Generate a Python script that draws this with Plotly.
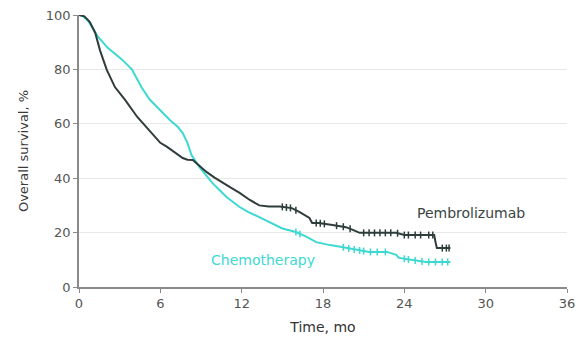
import numpy as np
import plotly.graph_objects as go

# Kaplan-Meier curves (months, % surviving)
pembro_t = [0, 0.4, 0.8, 1.2, 1.55, 2.05, 2.65, 3.4, 4.3, 5.0, 5.5, 6.0, 6.5, 7.0, 7.65, 8.0, 8.4,
            8.9, 9.4, 10.0, 10.6, 11.2, 11.85, 12.6, 13.3, 14.0, 14.8, 15.7, 16.25, 17.0, 17.2, 17.7,
            18.7, 19.7, 20.2, 20.7, 22.1, 23.4, 24.0, 24.6, 26.2, 26.3, 26.4, 27.4]
pembro_s = [100, 99.5, 97.4, 93.4, 87, 79.8, 73.5, 68.8, 62.5, 58.5, 56, 53, 51.5, 49.8, 47.4, 46.8, 46.7,
            44.5, 42.3, 40.2, 38.2, 36.5, 34.6, 32, 30, 29.6, 29.6, 29, 27.6, 25.4, 23.5, 23.5,
            22.8, 22, 21, 19.9, 19.9, 19.9, 19.1, 19.1, 19.1, 16.5, 14.3, 14.3]

chemo_t = [0, 0.3, 0.66, 1.0, 1.4, 2.1, 3.2, 3.9, 4.6, 5.2, 5.6, 6.0, 6.7, 7.3, 7.65, 8.0, 8.3, 8.9,
           9.4, 9.85, 10.4, 10.9, 11.85, 12.5, 13.3, 14.0, 15.0, 16.0, 16.8, 17.5, 18.5, 19.4, 20.5,
           21.4, 22.7, 23.4, 23.6, 24.6, 25.6, 27.4]
chemo_s = [100, 99.5, 98, 95, 92, 88, 83.5, 80, 73.5, 69, 67, 65, 61.4, 58.8, 56.6, 53, 48.5, 44,
           41, 38.2, 35.5, 33, 29.4, 27.5, 25.7, 24, 21.5, 20.2, 18.4, 16.5, 15.4, 14.7, 13.6,
           12.9, 12.9, 11.8, 10.7, 9.9, 9.2, 9.2]

# censoring times (tick marks)
pembro_cens = [15.0, 15.3, 15.6, 16.0, 17.5, 17.8, 18.1, 19.0, 19.5, 20.0, 21.0, 21.4, 21.8, 22.2,
               22.6, 23.0, 23.5, 24.0, 24.3, 24.8, 25.2, 25.8, 26.1, 26.8, 27.1, 27.3]
chemo_cens = [16.0, 16.3, 19.5, 19.9, 20.3, 20.7, 21.0, 21.5, 22.0, 22.6, 24.0, 24.3, 24.8, 25.3,
              25.8, 26.3, 26.8, 27.2]

x_ticks = [0, 6, 12, 18, 24, 30, 36]
y_ticks = [0, 20, 40, 60, 80, 100]

PEM = "#2e3d3b"
CHE = "#3dd8d2"

fig = go.Figure()
for t, s, c, cens in [(chemo_t, chemo_s, CHE, chemo_cens), (pembro_t, pembro_s, PEM, pembro_cens)]:
    fig.add_trace(go.Scatter(x=t, y=s, mode="lines", line=dict(color=c, width=2), showlegend=False,
                             hoverinfo="skip"))
    cy = np.interp(cens, t, s)
    fig.add_trace(go.Scatter(x=cens, y=cy, mode="markers",
                             marker=dict(symbol="line-ns-open", size=5, color=c,
                                         line=dict(color=c, width=1.5)),
                             showlegend=False, hoverinfo="skip"))

fig.add_annotation(x=28.9, y=27.2, text="Pembrolizumab", showarrow=False,
                   font=dict(family="DejaVu Sans", size=14, color="#3a4443"))
fig.add_annotation(x=13.6, y=9.9, text="Chemotherapy", showarrow=False,
                   font=dict(family="DejaVu Sans", size=14, color=CHE))

fig.update_layout(
    width=576, height=338,
    margin=dict(l=79, r=9, t=15, b=51),
    paper_bgcolor="white", plot_bgcolor="white",
    font=dict(family="DejaVu Sans", size=13, color="#555555"),
    xaxis=dict(range=[0, 36], tickvals=x_ticks, showgrid=False, showline=True, linecolor="#8a8a8a",
               linewidth=1.5, ticks="outside", ticklen=4, tickcolor="#8a8a8a", zeroline=False,
               automargin=False,
               title=dict(text="Time, mo", font=dict(size=14, color="#333333"), standoff=12)),
    yaxis=dict(range=[0, 100], tickvals=y_ticks, showgrid=True, gridcolor="#e8e8e8", gridwidth=1,
               showline=True, linecolor="#8a8a8a", linewidth=1.5, ticks="outside", ticklen=4,
               tickcolor="#8a8a8a", zeroline=False, automargin=False,
               title=dict(text="Overall survival, %", font=dict(size=13, color="#3a3a3a"), standoff=14)),
)

fig.write_html("out.html")
